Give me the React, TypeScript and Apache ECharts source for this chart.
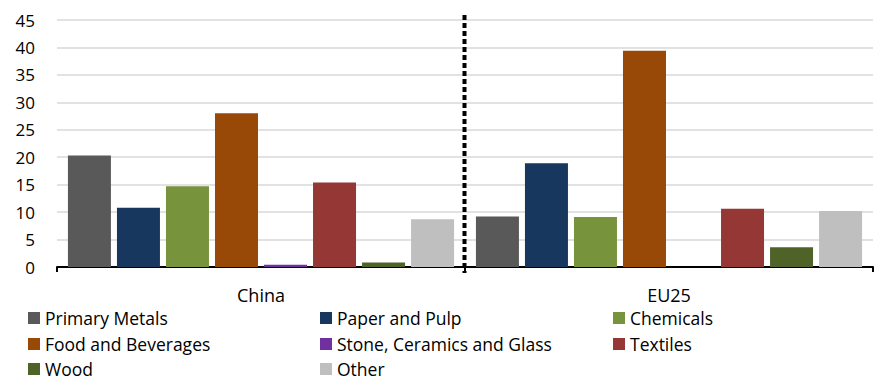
import React, { useEffect, useRef } from "react";
import * as echarts from "echarts";

const categories = ["China", "EU25"];
const seriesNames = [
  "Primary Metals",
  "Paper and Pulp",
  "Chemicals",
  "Food and Beverages",
  "Stone, Ceramics and Glass",
  "Textiles",
  "Wood",
  "Other",
];
const primaryMetals = [20.3, 9.2];
const paperAndPulp = [10.8, 18.9];
const chemicals = [14.7, 9.1];
const foodAndBeverages = [28.0, 39.4];
const stoneCeramicsGlass = [0.4, 0];
const textiles = [15.4, 10.6];
const wood = [0.8, 3.6];
const other = [8.7, 10.2];
const seriesValues = [
  primaryMetals,
  paperAndPulp,
  chemicals,
  foodAndBeverages,
  stoneCeramicsGlass,
  textiles,
  wood,
  other,
];
const colors = [
  "#595959",
  "#17375E",
  "#77933C",
  "#984807",
  "#7030A0",
  "#953735",
  "#4F6228",
  "#BFBFBF",
];
const yTicks = { min: 0, max: 45, interval: 5 };

const FONT = "Open Sans";

// legend layout: columns (left) and rows (top)
const legendCols = [28, 320, 613];
const legendRows = [309, 335, 360];

export default function App() {
  const ref = useRef<HTMLDivElement>(null);
  useEffect(() => {
    if (!ref.current) return;
    const chart = echarts.init(ref.current, undefined, { renderer: "svg" });
    const legends = seriesNames.map((name, i) => ({
      left: legendCols[i % 3],
      top: legendRows[Math.floor(i / 3)],
      padding: 0,
      itemWidth: 12,
      itemHeight: 12,
      icon: "rect",
      selectedMode: false,
      textStyle: { fontFamily: FONT, fontSize: 17.5, lineHeight: 18, color: "#000" },
      data: [name],
    }));
    chart.setOption({
      animation: false,
      color: colors,
      grid: { left: 57, right: 8, top: 20, bottom: 115, containLabel: false },
      xAxis: {
        type: "category",
        data: categories,
        axisLine: { lineStyle: { color: "#000", width: 2 } },
        axisTick: { show: true, alignWithLabel: false, length: 5, lineStyle: { color: "#000", width: 2 } },
        axisLabel: { fontFamily: FONT, fontSize: 18, color: "#000", margin: 19 },
      },
      yAxis: {
        type: "value",
        min: yTicks.min,
        max: yTicks.max,
        interval: yTicks.interval,
        axisLine: { show: false },
        axisTick: { show: false },
        axisLabel: { fontFamily: FONT, fontSize: 17, color: "#000", margin: 22 },
        splitLine: { lineStyle: { color: "#D9D9D9", width: 1.5 } },
      },
      legend: legends,
      series: seriesNames.map((name, i) => ({
        name,
        type: "bar",
        data: seriesValues[i],
        barWidth: 43,
        barGap: "14%",
        itemStyle: { color: colors[i] },
      })),
      graphic: [
        {
          type: "line",
          shape: { x1: 464.5, y1: 15, x2: 464.5, y2: 273 },
          style: { stroke: "#000", lineWidth: 4, lineDash: [5, 3] },
          z: 100,
        },
      ],
    });
    return () => chart.dispose();
  }, []);
  return <div ref={ref} style={{ width: 881, height: 382, position: "absolute", left: 0, top: 0 }} />;
}
